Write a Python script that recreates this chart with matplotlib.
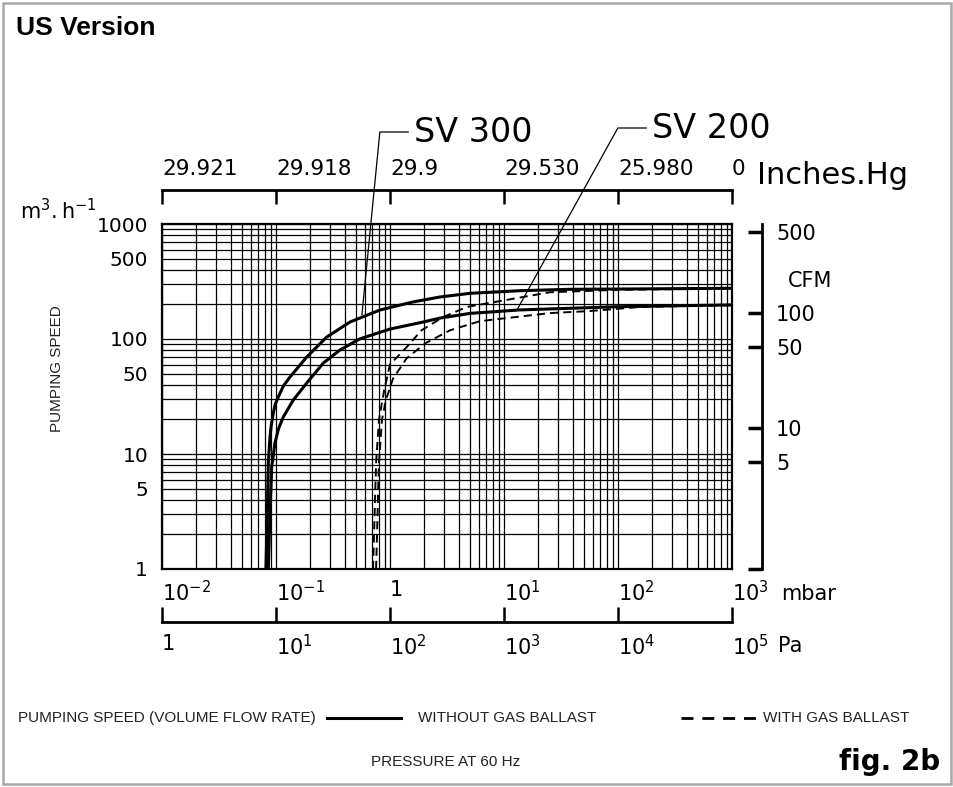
import matplotlib
matplotlib.use("Agg")
import matplotlib.pyplot as plt
from matplotlib import font_manager
from matplotlib.lines import Line2D
from matplotlib.patches import Rectangle
from matplotlib.ticker import NullLocator, NullFormatter

# pumping speed curves: pressure in mbar, speed in m3/h
sv300_p = [0.0816, 0.0839, 0.0856, 0.0886, 0.091, 0.0947, 0.0985, 0.1047, 0.116, 0.1327,
           0.186, 0.2785, 0.446, 0.817, 1.59, 2.75, 5.03, 13.8, 37.9, 104, 1000]
sv300_s = [1, 3.07, 8.35, 14.1, 18, 22.7, 27, 31.3, 39, 46.7,
           69.7, 104, 140.6, 178.8, 210, 232, 249.6, 263, 270.5, 272, 276]

sv200_p = [0.0856, 0.0886, 0.0917, 0.098, 0.105, 0.1159, 0.1419, 0.186, 0.26, 0.364,
           0.54, 1.0, 1.96, 2.75, 5.03, 13.8, 37.9, 104, 1000]
sv200_s = [1, 3.07, 7.71, 12.5, 16.5, 21, 29.5, 41.4, 61.8, 80.2,
           100, 122, 140.6, 152, 167, 179, 185, 191, 198]

sv300_gb_p = [0.71, 0.755, 0.80, 0.89, 1.0, 1.4, 1.89, 2.92, 4.73, 25.3, 104, 1000]
sv300_gb_s = [1, 8.35, 19.8, 36, 60, 85, 119, 155, 190, 255, 268, 275]

sv200_gb_p = [0.755, 0.80, 0.85, 0.92, 1.06, 1.4, 2.05, 3.36, 6.16, 25.3, 56.8, 156, 1000]
sv200_gb_s = [1, 8.35, 19.8, 29.5, 45, 68, 92, 119, 143, 168, 175, 190, 197]

# where the "SV" callouts touch the curves
sv300_tag = (0.567, 162)
sv200_tag = (13.0, 179)

mbar_ticks = [1e-2, 1e-1, 1, 1e1, 1e2, 1e3]
mbar_labels = [r"$10^{-2}$", r"$10^{-1}$", "1", r"$10^{1}$", r"$10^{2}$", r"$10^{3}$"]
pa_ticks = [1, 1e1, 1e2, 1e3, 1e4, 1e5]
pa_labels = ["1", r"$10^{1}$", r"$10^{2}$", r"$10^{3}$", r"$10^{4}$", r"$10^{5}$"]
inhg_labels = ["29.921", "29.918", "29.9", "29.530", "25.980", "0"]
speed_ticks = [1, 5, 10, 50, 100, 500, 1000]
speed_labels = ["1", "5", "10", "50", "100", "500", "1000"]
cfm_ticks = [5, 10, 50, 100, 500]
cfm_labels = ["5", "10", "50", "100", "500"]
M3H_PER_CFM = 1.699

names = {f.name for f in font_manager.fontManager.ttflist}
if "Liberation Sans Narrow" in names:
    narrow, nsize = "Liberation Sans Narrow", 12.5
else:
    narrow, nsize = "Liberation Sans", 11

plt.rcParams["font.family"] = "DejaVu Sans"
plt.rcParams["mathtext.fontset"] = "dejavusans"

W, H = 954, 787
fig = plt.figure(figsize=(W / 100, H / 100), dpi=100)


def fx(x):
    return x / W


def fy(y):
    return 1 - y / H


ax = fig.add_axes([fx(162), fy(569), 570 / W, 345 / H])
ax.set_xscale("log")
ax.set_yscale("log")
ax.set_xlim(1e-2, 1e3)
ax.set_ylim(1, 1000)

ax.plot(sv300_p, sv300_s, color="black", lw=2.2, zorder=3)
ax.plot(sv200_p, sv200_s, color="black", lw=2.2, zorder=3)
ax.plot(sv300_gb_p, sv300_gb_s, color="black", lw=1.4, dashes=(4.2, 2.6), zorder=3)
ax.plot(sv200_gb_p, sv200_gb_s, color="black", lw=1.4, dashes=(4.2, 2.6), zorder=3)

ax.grid(True, which="both", color="black", lw=0.9)
ax.set_axisbelow(True)
ax.set_xticks(mbar_ticks, mbar_labels)
ax.set_yticks(speed_ticks, speed_labels)
ax.xaxis.set_minor_formatter(NullFormatter())
ax.yaxis.set_minor_formatter(NullFormatter())
ax.tick_params(which="both", length=0)
ax.tick_params(axis="x", pad=8, labelsize=15)
ax.tick_params(axis="y", pad=10, labelsize=14.5)
plt.setp(ax.get_xticklabels(), ha="left")
for sp in ax.spines.values():
    sp.set_linewidth(1.6)

# inches of mercury on top
top = ax.secondary_xaxis(379 / 345)
top.set_xticks(mbar_ticks, inhg_labels)
top.xaxis.set_minor_locator(NullLocator())
top.tick_params(direction="in", length=10, width=1.8, pad=8, labelsize=15.5)
plt.setp(top.get_xticklabels(), ha="left")
top.spines["top"].set_linewidth(2)

# pascal scale below
bot = ax.secondary_xaxis(-53 / 345, functions=(lambda p: p * 100, lambda p: p / 100))
bot.set_xticks(pa_ticks, pa_labels)
bot.xaxis.set_minor_locator(NullLocator())
bot.tick_params(direction="in", length=11, width=1.8, pad=9, labelsize=15)
plt.setp(bot.get_xticklabels(), ha="left")
bot.spines["bottom"].set_linewidth(2)

# CFM scale on the right
right = ax.secondary_yaxis(1 + 30 / 570, functions=(lambda s: s / M3H_PER_CFM,
                                                    lambda c: c * M3H_PER_CFM))
right.set_yticks([1 / M3H_PER_CFM] + cfm_ticks, [""] + cfm_labels)
right.yaxis.set_minor_locator(NullLocator())
right.tick_params(direction="in", length=10, width=2.5, pad=10, labelsize=15)
right.spines["right"].set_linewidth(2)

# callouts
ax.annotate("SV 300", xy=sv300_tag, xytext=(414, H - 132), textcoords="figure pixels",
            fontsize=24, va="center", ha="left",
            arrowprops=dict(arrowstyle="-", color="black", lw=0.9, shrinkA=2, shrinkB=0,
                            relpos=(0, 0.5),
                            connectionstyle="angle,angleA=0,angleB=84.4,rad=0"))
ax.annotate("SV 200", xy=sv200_tag, xytext=(652, H - 128), textcoords="figure pixels",
            fontsize=24, va="center", ha="left",
            arrowprops=dict(arrowstyle="-", color="black", lw=0.9, shrinkA=2, shrinkB=0,
                            relpos=(0, 0.5),
                            connectionstyle="angle,angleA=0,angleB=61,rad=0"))

# texts
fig.text(fx(16), fy(28), "US Version", fontsize=19, fontweight="bold",
         family="Liberation Sans", va="center")
fig.text(fx(940), fy(762), "fig. 2b", fontsize=20, fontweight="bold",
         family="DejaVu Sans", va="center", ha="right")
fig.text(fx(757), fy(161), "Inches.Hg", fontsize=22, va="top")
fig.text(fx(20), fy(219), r"$\mathrm{m}^{3}.\mathrm{h}^{-1}$", fontsize=15, va="baseline")
fig.text(fx(788), fy(281), "CFM", fontsize=15, va="center")
fig.text(fx(781), fy(600), "mbar", fontsize=15, va="baseline")
fig.text(fx(778), fy(652), "Pa", fontsize=15, va="baseline")
fig.text(fx(57), fy(369), "PUMPING SPEED", rotation=90, va="center", ha="center",
         family=narrow, fontsize=nsize, color="#222222")

# legend row
fig.text(fx(18), fy(718), "PUMPING SPEED (VOLUME FLOW RATE)", va="center",
         family=narrow, fontsize=nsize, color="#222222")
fig.add_artist(Line2D([fx(327), fx(401)], [fy(718), fy(718)], color="black", lw=2.2))
fig.text(fx(418), fy(718), "WITHOUT GAS BALLAST", va="center",
         family=narrow, fontsize=nsize, color="#222222")
fig.add_artist(Line2D([fx(681), fx(757)], [fy(718), fy(718)], color="black", lw=2,
                      dashes=(4.3, 3.2)))
fig.text(fx(763), fy(718), "WITH GAS BALLAST", va="center",
         family=narrow, fontsize=nsize, color="#222222")
fig.text(fx(446), fy(762), "PRESSURE AT 60 Hz", va="center", ha="center",
         family=narrow, fontsize=nsize, color="#222222")

# grey frame
fig.add_artist(Rectangle((fx(3), fy(784)), 948 / W, 781 / H, fill=False,
                         edgecolor="#a9a9a9", lw=1.8))

fig.savefig("out.png", dpi=100)
